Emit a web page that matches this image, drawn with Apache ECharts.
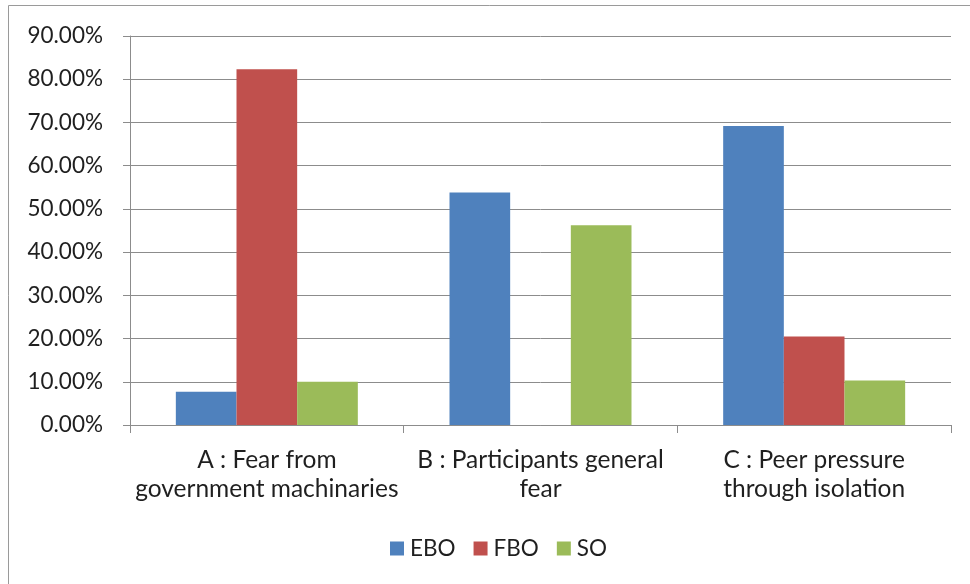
<!DOCTYPE html>
<html>
<head>
<meta charset="utf-8">
<script src="https://cdn.jsdelivr.net/npm/echarts@6/dist/echarts.min.js"></script>
<style>
html,body{margin:0;padding:0;background:#fff;}
#chart{width:970px;height:584px;}
</style>
</head>
<body>
<div id="chart"></div>
<script>
const categories = [
  "A : Fear from\ngovernment machinaries",
  "B : Participants general\nfear",
  "C : Peer pressure\nthrough isolation"
];
const seriesNames = ["EBO", "FBO", "SO"];
const eboValues = [7.7, 53.8, 69.2];
const fboValues = [82.3, 0, 20.5];
const soValues = [10.0, 46.2, 10.3];
const yTicks = { min: 0, max: 90, interval: 10 };

const FONT = 'Lato';
const FS = 22.5;
const FSX = 24.5;
const TEXT = '#1f1f1f';
const LINE = '#8c8c8c';

const chart = echarts.init(document.getElementById('chart'), null, { renderer: 'canvas' });
chart.setOption({
  animation: false,
  backgroundColor: '#fff',
  textStyle: { fontFamily: FONT },
  graphic: [{
    type: 'rect',
    shape: { x: 8.5, y: 5.5, width: 1200, height: 1200 },
    style: { fill: 'none', stroke: '#9a9a9a', lineWidth: 1 },
    silent: true, z: -10
  }],
  grid: { left: 130, right: 19, top: 36, bottom: 159, containLabel: false },
  legend: {
    data: seriesNames,
    left: 390, top: 537,
    itemWidth: 14, itemHeight: 14, itemGap: 18,
    padding: 0,
    icon: 'rect',
    textStyle: { fontFamily: FONT, fontSize: FS, color: TEXT, padding: [0, 0, 0, 1] }
  },
  xAxis: {
    type: 'category',
    data: categories,
    axisLine: { lineStyle: { color: LINE, width: 1 } },
    axisTick: { show: true, length: 8, alignWithLabel: false, lineStyle: { color: LINE } },
    axisLabel: { fontFamily: FONT, fontSize: FSX, color: TEXT, lineHeight: 29.5, margin: 20, interval: 0 },
    splitLine: { show: false }
  },
  yAxis: {
    type: 'value',
    min: yTicks.min, max: yTicks.max, interval: yTicks.interval,
    axisLine: { show: true, lineStyle: { color: LINE, width: 1 } },
    axisTick: { show: true, length: 7, lineStyle: { color: LINE } },
    axisLabel: {
      fontFamily: FONT, fontSize: FS, color: TEXT, margin: 27,
      formatter: v => v.toFixed(2) + '%'
    },
    splitLine: { show: true, lineStyle: { color: LINE, width: 1 } }
  },
  series: [
    { name: 'EBO', type: 'bar', data: eboValues, itemStyle: { color: '#4F81BD' }, barGap: '0%', barCategoryGap: '33.5%' },
    { name: 'FBO', type: 'bar', data: fboValues, itemStyle: { color: '#C0504D' }, barGap: '0%', barCategoryGap: '33.5%' },
    { name: 'SO', type: 'bar', data: soValues, itemStyle: { color: '#9BBB59' }, barGap: '0%', barCategoryGap: '33.5%' }
  ]
});
</script>
</body>
</html>
